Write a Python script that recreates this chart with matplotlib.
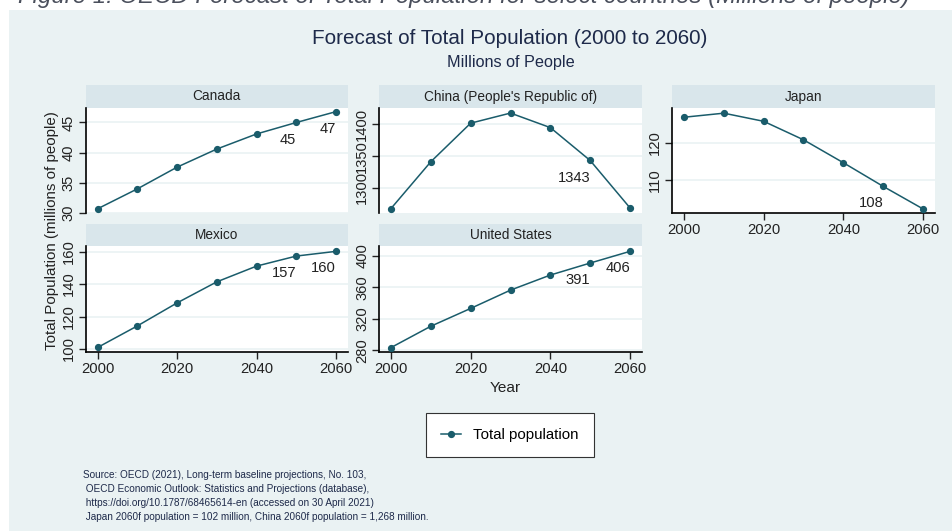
import matplotlib
matplotlib.use("Agg")
import matplotlib.pyplot as plt
from matplotlib.patches import Rectangle
from matplotlib.lines import Line2D

years = [2000, 2010, 2020, 2030, 2040, 2050, 2060]
canada = [30.7, 34.0, 37.6, 40.6, 43.1, 45.0, 46.8]
china = [1267, 1341, 1402, 1418, 1395, 1343, 1268]
japan = [126.9, 128.0, 125.8, 120.8, 114.6, 108.2, 102.1]
mexico = [100.9, 114.2, 128.4, 141.4, 151.1, 157.3, 160.2]
usa = [283.4, 310.6, 333.3, 356.6, 375.8, 391.1, 406.0]

country_names = ["Canada", "China (People's Republic of)", "Japan", "Mexico", "United States"]
series = [canada, china, japan, mexico, usa]
y_ticks = [[30, 35, 40, 45], [1300, 1350, 1400], [110, 120],
           [100, 120, 140, 160], [280, 320, 360, 400]]
labelled_years = [[2050, 2060], [2050], [2050], [2050, 2060], [2050, 2060]]
x_ticks = [2000, 2020, 2040, 2060]

plt.rcParams['font.family'] = ['Liberation Sans', 'DejaVu Sans']

W, H = 953, 531
BG = '#eaf2f3'
STRIP = '#d9e6eb'
LINE = '#1a5c6b'
TXT = '#1e2a4a'
DARK = '#222222'
TICK_FS = 10.6

fig = plt.figure(figsize=(W / 100, H / 100), dpi=100, facecolor='white')


def px(x0, y0, x1, y1):
    # pixel box (top-left origin) -> figure fraction rect
    return [x0 / W, 1 - y1 / H, (x1 - x0) / W, (y1 - y0) / H]


fig.patches.append(Rectangle((9 / W, 0), 1, 1 - 10 / H, transform=fig.transFigure,
                             facecolor=BG, edgecolor='none', zorder=-5))

# panel boxes: columns (x0, x1), rows (strip top, plot top, plot bottom)
cols = [(85.7, 348), (379, 642), (672, 935)]
rows = [(85, 108, 213), (224, 246, 352)]
layout = [(0, 0), (0, 1), (0, 2), (1, 0), (1, 1)]
ylims = [(30, 47.4), (1260, 1426), (101, 129.4), (98.1, 163.5), (277.8, 412.8)]
show_x = [False, False, True, True, True]

for i, name in enumerate(country_names):
    r, c = layout[i]
    x0, x1 = cols[c]
    st, pt, pb = rows[r]
    sax = fig.add_axes(px(x0, st, x1, pt))
    sax.set_facecolor(STRIP)
    sax.set_xticks([])
    sax.set_yticks([])
    for s in sax.spines.values():
        s.set_visible(False)
    sax.text(0.5, 0.5, name, ha='center', va='center', fontsize=9.8, color=DARK,
             transform=sax.transAxes)

    ax = fig.add_axes(px(x0, pt, x1, pb))
    ax.set_facecolor('white')
    ax.plot(years, series[i], color=LINE, lw=1.1, marker='o', ms=4.2, zorder=3, clip_on=False)
    for yr in labelled_years[i]:
        v = series[i][years.index(yr)]
        ax.annotate(f'{v:.0f}', (yr, v), xytext=(0, -12.3), textcoords='offset points',
                    ha='right', va='center', fontsize=TICK_FS, color=DARK)
    ax.set_xlim(1997, 2063)
    ax.set_ylim(*ylims[i])
    ax.set_yticks(y_ticks[i])
    ax.grid(axis='y', color=BG, lw=1.2)
    ax.set_axisbelow(True)
    ax.spines['top'].set_visible(False)
    ax.spines['right'].set_visible(False)
    ax.spines['left'].set_linewidth(1.2)
    ax.spines['bottom'].set_linewidth(1.2)
    ax.tick_params(axis='y', direction='out', length=5, width=1, labelsize=TICK_FS,
                   labelrotation=90, pad=2, colors=DARK)
    for lab in ax.get_yticklabels():
        lab.set_va('center')
    if show_x[i]:
        ax.set_xticks(x_ticks)
        ax.tick_params(axis='x', direction='out', length=5, width=1, labelsize=TICK_FS,
                       pad=2, colors=DARK)
    else:
        ax.set_xticks([])
        ax.spines['bottom'].set_visible(False)

fig.text(18 / W, 1 - 3 / H, 'Figure 1: OECD Forecast of Total Population for select countries (Millions of people)',
         fontsize=17.3, style='italic', color='#4a4f5c', ha='left', va='baseline')
fig.text(510 / W, 1 - 38 / H, 'Forecast of Total Population (2000 to 2060)', fontsize=14.9,
         color=TXT, ha='center', va='center')
fig.text(511 / W, 1 - 63 / H, 'Millions of People', fontsize=11.7, color=TXT, ha='center', va='center')
fig.text(52 / W, 1 - 231 / H, 'Total Population (millions of people)', fontsize=10.9, rotation=90,
         color=DARK, ha='center', va='center')
fig.text(505 / W, 1 - 388 / H, 'Year', fontsize=TICK_FS + 0.5, color=DARK, ha='center', va='center')

handle = Line2D([], [], color=LINE, lw=1.1, marker='o', ms=4.2)
leg = fig.legend([handle], ['Total population'], loc='center', bbox_to_anchor=(510 / W, 1 - 435 / H),
                 fontsize=10.8, frameon=True, fancybox=False, edgecolor='#333333', framealpha=1,
                 borderpad=1.0, handlelength=1.35, borderaxespad=0, handletextpad=0.8)
leg.get_frame().set_linewidth(0.8)

source_lines = [
    'Source: OECD (2021), Long-term baseline projections, No. 103,',
    ' OECD Economic Outlook: Statistics and Projections (database),',
    ' https://doi.org/10.1787/68465614-en (accessed on 30 April 2021)',
    ' Japan 2060f population = 102 million, China 2060f population = 1,268 million.',
]
for k, line in enumerate(source_lines):
    fig.text(83 / W, 1 - (475 + 14 * k) / H, line, fontsize=7.2, color=TXT, ha='left', va='center')

fig.savefig('out.png', dpi=100, facecolor='white')
